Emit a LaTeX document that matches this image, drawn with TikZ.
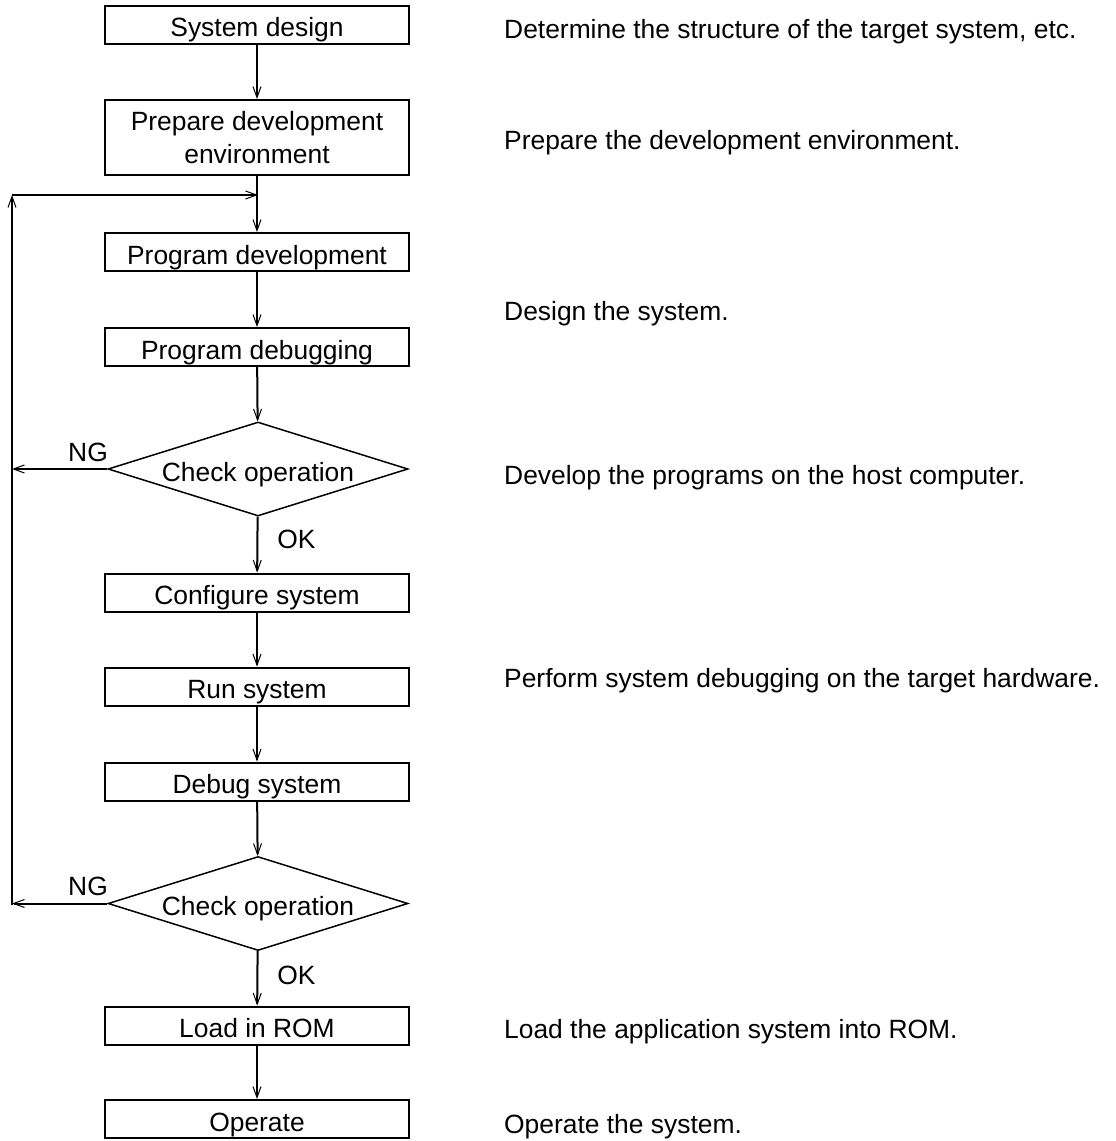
\documentclass[tikz,border=0pt]{standalone}
\usepackage{fontspec}
\setmainfont{Liberation Sans}
\usetikzlibrary{arrows.meta,shapes.geometric}
\begin{document}
\begin{tikzpicture}[x=1pt,y=-1pt,
  every node/.style={font=\fontsize{26.4}{33}\selectfont},
  stepbox/.style={draw,line width=2pt,minimum width=304pt,minimum height=38pt,inner sep=0pt,align=center,text height=24pt,text depth=0pt},
  twoline/.style={draw,line width=2pt,minimum width=304pt,minimum height=75pt,inner sep=0pt,align=center},
  check/.style={draw,line width=1.5pt,shape=diamond,aspect=3.2,minimum width=300pt,minimum height=94pt,inner sep=0pt,text height=24pt,text depth=0pt},
  flow/.style={line width=2pt,-{Straight Barb[length=11pt,width=8pt,line width=1pt]}},
  note/.style={anchor=base west,inner sep=0pt},
  tag/.style={inner sep=0pt}]
\useasboundingbox (0,0) rectangle (1116,1141);

% process steps
\node[stepbox] (sd) at (257,24.5) {System design};
\node[twoline] (pde) at (257,137.5) {Prepare development\\environment};
\node[stepbox] (pdev) at (257,252) {Program development};
\node[stepbox] (pdbg) at (257,347) {Program debugging};
\node[check] (chk1) at (258,469) {Check operation};
\node[stepbox] (cfg) at (257,592.5) {Configure system};
\node[stepbox] (run) at (257,686.5) {Run system};
\node[stepbox] (dbg) at (257,781.5) {Debug system};
\node[check] (chk2) at (258,903.5) {Check operation};
\node[stepbox] (rom) at (257,1025.5) {Load in ROM};
\node[stepbox] (op) at (257,1119) {Operate};

% return path for failed checks
\coordinate (join) at (258,195);
\coordinate (loopT) at (12,195);
\coordinate (ng1) at (loopT |- chk1.west);
\coordinate (ng2) at (loopT |- chk2.west);
\coordinate (loopB) at (12,905);

% main flow
\draw[flow] (sd) -- (pde);
\draw[flow] (pde) -- (pdev);
\draw[flow] (pdev) -- (pdbg);
\draw[flow] (pdbg) -- (chk1);
\draw[flow] (chk1) -- node[tag,right=19pt,pos=0.40] {OK} (cfg);
\draw[flow] (cfg) -- (run);
\draw[flow] (run) -- (dbg);
\draw[flow] (dbg) -- (chk2);
\draw[flow] (chk2) -- node[tag,right=19pt,pos=0.44] {OK} (rom);
\draw[flow] (rom) -- (op);

% NG branches
\draw[flow] (chk1.west) -- (ng1);
\draw[flow] (chk2.west) -- (ng2);
\node[tag] at (88,452) {NG};
\node[tag] at (88,886) {NG};
\draw[flow] (loopB) -- (loopT);
\draw[flow] (loopT) -- (join);

% descriptions
\node[note] at (504,38) {Determine the structure of the target system, etc.};
\node[note] at (504,149) {Prepare the development environment.};
\node[note] at (504,320) {Design the system.};
\node[note] at (504,484) {Develop the programs on the host computer.};
\node[note] at (504,687) {Perform system debugging on the target hardware.};
\node[note] at (504,1038) {Load the application system into ROM.};
\node[note] at (504,1133) {Operate the system.};
\end{tikzpicture}
\end{document}
